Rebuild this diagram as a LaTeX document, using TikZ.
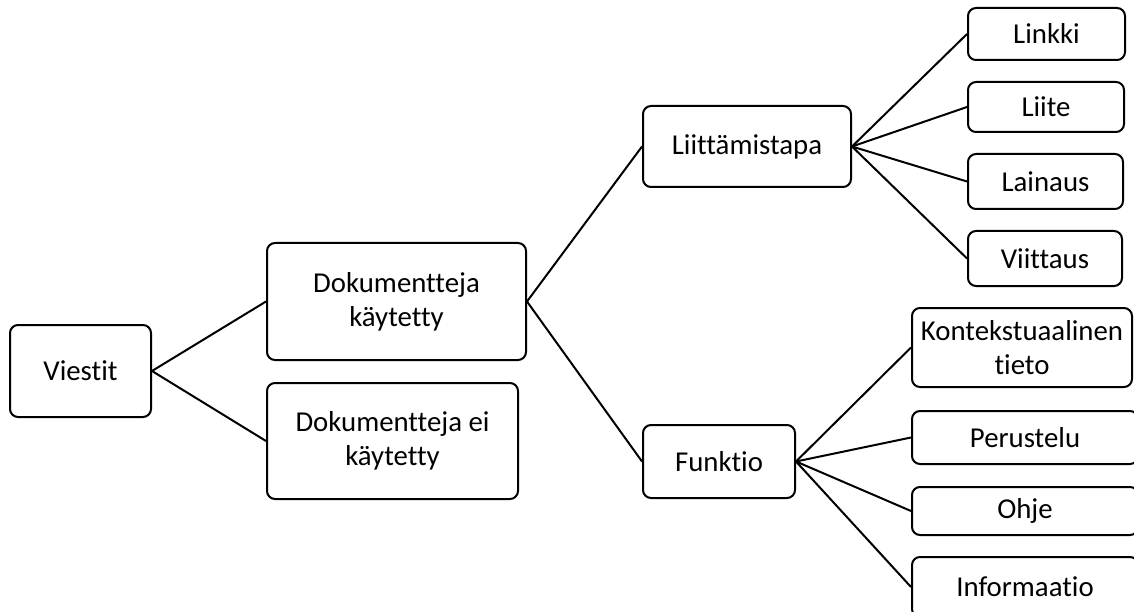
\documentclass[tikz,border=0pt]{standalone}
\usepackage{fontspec}
\setmainfont{Carlito}[Ligatures=NoCommon]
\begin{document}
\begin{tikzpicture}[x=1pt,y=-1pt,
  box/.style={draw,line width=2pt,rounded corners=8pt,inner sep=0pt,
    align=center,font=\fontsize{28.8}{34}\selectfont},
  link/.style={line width=2pt}]
\useasboundingbox (0,0) rectangle (1134,612);
%
\node[box,minimum width=141,minimum height=92] (viestit) at (80.5,371) {Viestit};
\node[box,minimum width=259,minimum height=117] (kaytetty) at (396.5,301.5) {Dokumentteja\\käytetty};
\node[box,minimum width=251,minimum height=116] (eikaytetty) at (392.5,441) {Dokumentteja ei\\käytetty};
\node[box,minimum width=208,minimum height=81] (tapa) at (747,146.5) {Liittämistapa};
\node[box,minimum width=152,minimum height=73] (funktio) at (719,461.5) {Funktio};
%
\node[box,minimum width=157,minimum height=52] (linkki) at (1046.5,34) {Linkki};
\node[box,minimum width=156,minimum height=50] (liite) at (1046,107) {Liite};
\node[box,minimum width=155,minimum height=55] (lainaus) at (1045.5,181.5) {Lainaus};
\node[box,minimum width=154,minimum height=55] (viittaus) at (1045,258.5) {Viittaus};
%
\node[box,minimum width=220,minimum height=79] (konteksti) at (1022,347.5) {Kontekstuaalinen\\tieto};
\node[box,minimum width=226,minimum height=53] (perustelu) at (1025,437.5) {Perustelu};
\node[box,minimum width=226,minimum height=48] (ohje) at (1025,511) {Ohje};
\node[box,minimum width=226,minimum height=60] (informaatio) at (1025,587) {Informaatio};
%
\draw[link] (viestit.east) -- (kaytetty.west);
\draw[link] (viestit.east) -- (eikaytetty.west);
\draw[link] (kaytetty.east) -- (tapa.west);
\draw[link] (kaytetty.east) -- (funktio.west);
\foreach \t in {linkki,liite,lainaus,viittaus}
  \draw[link] (tapa.east) -- (\t.west);
\foreach \t in {konteksti,perustelu,ohje,informaatio}
  \draw[link] (funktio.east) -- (\t.west);
\end{tikzpicture}
\end{document}
